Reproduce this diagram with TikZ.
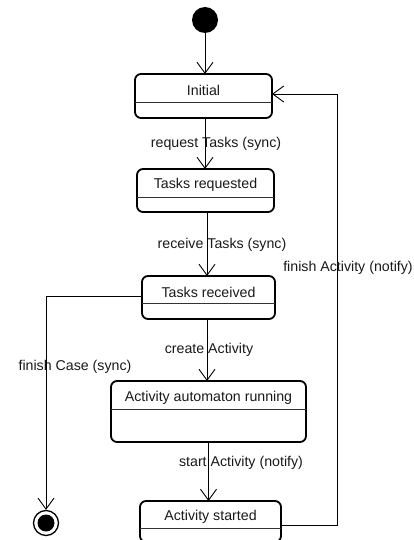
\documentclass[tikz,border=0pt]{standalone}
\usepackage{fontspec}
\setmainfont{Liberation Sans}
\usetikzlibrary{arrows.meta}
\begin{document}
\begin{tikzpicture}[x=1pt,y=-1pt,
  font=\fontsize{14.2}{17}\selectfont,
  statebox/.style={draw=black, line width=1.8pt, rounded corners=6pt, inner sep=0pt, outer sep=0pt},
  divider/.style={draw=black!80, line width=0.9pt},
  title/.style={inner sep=0pt, text=black!90},
  lbl/.style={inner sep=0pt, text=black!90},
  arr/.style={draw=black, line width=0.9pt, -{Straight Barb[length=11pt,width=16pt,line width=0.9pt]}},
  conn/.style={draw=black, line width=0.9pt}
]
\useasboundingbox (0,0) rectangle (414,540);

% initial and final pseudo states
\node[circle, fill=black, minimum size=26pt, inner sep=0pt] (start) at (205,20) {};
\node[circle, draw=black, line width=1.3pt, minimum size=25pt, inner sep=0pt] (final) at (46,523) {};
\node[circle, fill=black, minimum size=17pt, inner sep=0pt] (finalin) at (final) {};

% states
\node[statebox, minimum width=137pt, minimum height=44pt] (init) at (203.5,96) {};
\draw[divider] (init.west |- 0,102) -- (init.east |- 0,102);
\node[title] (tinit) at (203.5,90) {Initial};

\node[statebox, minimum width=137pt, minimum height=43pt] (treq) at (205.5,190.5) {};
\draw[divider] (treq.west |- 0,197) -- (treq.east |- 0,197);
\node[title] (ttreq) at (205.5,185) {Tasks requested};

\node[statebox, minimum width=133pt, minimum height=43pt] (trec) at (208.5,297.5) {};
\draw[divider] (trec.west |- 0,303) -- (trec.east |- 0,303);
\node[title] (ttrec) at (208.5,292.5) {Tasks received};

\node[statebox, minimum width=195pt, minimum height=61pt] (run) at (208.5,411.5) {};
\draw[divider] (run.west |- 0,409) -- (run.east |- 0,409);
\node[title] (trun) at (208.5,397.5) {Activity automaton running};

\node[statebox, minimum width=141pt, minimum height=41pt] (started) at (210.5,521.5) {};
\draw[divider] (started.west |- 0,528) -- (started.east |- 0,528);
\node[title] (tstarted) at (210.5,516.5) {Activity started};

% transitions
\draw[arr] (start.south) -- (start.south |- init.north);
\draw[arr] ([xshift=1.5pt]init.south) -- ([xshift=1.5pt]init.south |- treq.north);
\draw[arr] ([xshift=1.5pt]treq.south) -- ([xshift=1.5pt]treq.south |- trec.north);
\draw[arr] ([xshift=-1.5pt]trec.south) -- ([xshift=-1.5pt]trec.south |- run.north);
\draw[arr] (run.south) -- (run.south |- started.north);

\coordinate (loopc) at (337,94);
\draw[arr] ([yshift=-3.5pt]started.east) -| (loopc) -- (loopc -| init.east);
\draw[arr] ([yshift=1.5pt]trec.west) -| (final.north);

% transition labels
\node[lbl] (l1) at (216,144) {request Tasks (sync)};
\node[lbl] (l2) at (222,245) {receive Tasks (sync)};
\node[lbl] (l3) at (209,350) {create Activity};
\node[lbl] (l4) at (241,463) {start Activity (notify)};
\node[lbl] (l5) at (348,268) {finish Activity (notify)};
\node[lbl] (l6) at (75,367) {finish Case (sync)};
\end{tikzpicture}
\end{document}
